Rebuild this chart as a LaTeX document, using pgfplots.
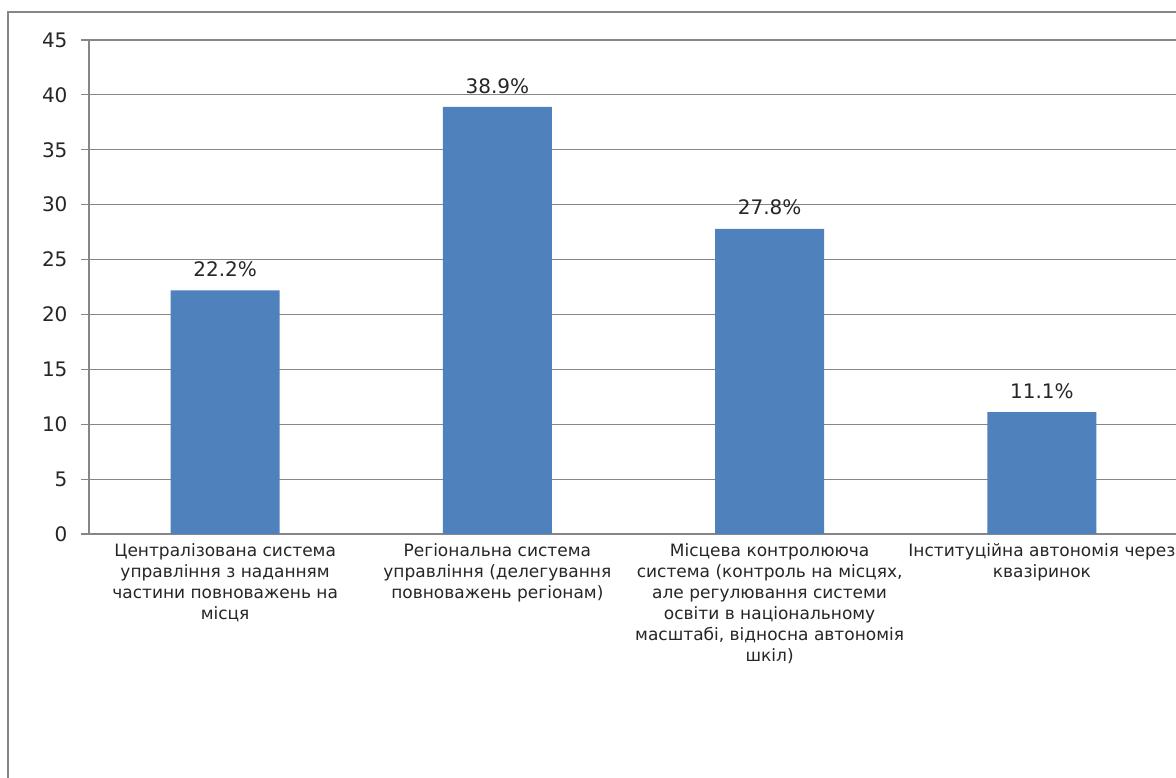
\documentclass[border=0pt]{standalone}
\usepackage{fontspec}
\setmainfont{DejaVu Sans}
\usepackage{pgfplots}
\pgfplotsset{compat=1.18}
\definecolor{barblue}{HTML}{4F81BD}
\definecolor{linegray}{HTML}{868686}

\begin{document}
\begin{tikzpicture}[x=1pt,y=1pt]
\useasboundingbox (0,0) rectangle (1176,778);
\fill[white] (0,0) rectangle (1176,778);
% outer chart frame
\draw[linegray, line width=1.3pt] (8,-10) -- (8,766) -- (1200,766);
\begin{axis}[
  at={(89pt,244pt)}, anchor=south west,
  scale only axis, width=1089pt, height=494pt,
  xmin=-0.5, xmax=3.5, ymin=0, ymax=45,
  axis x line*=bottom, axis y line*=left,
  axis line style={linegray, line width=1.2pt},
  ytick={0,5,...,45},
  ymajorgrids, grid style={linegray, line width=1.2pt},
  xtick={0,1,2,3},
  xticklabels={
    {Централізована система\\управління з наданням\\частини повноважень на\\місця},
    {Регіональна система\\управління (делегування\\повноважень регіонам)},
    {Місцева контролююча\\система (контроль на місцях,\\але регулювання системи\\освіти в національному\\масштабі, відносна автономія\\шкіл)},
    {Інституційна автономія через\\квазіринок}},
  x tick style={draw=none},
  minor xtick={-0.5,0.5,1.5,2.5,3.5},
  minor x tick style={linegray, line width=1.2pt},
  minor tick length=7pt,
  major tick length=8pt,
  y tick style={linegray, line width=1.2pt},
  tick align=outside,
  /pgf/number format/assume math mode=true,
  yticklabel style={font=\fontsize{20}{22}\selectfont, text=black!85, xshift=-10pt},
  xticklabel style={font=\fontsize{17}{21}\selectfont, text=black!85, align=center,
                    anchor=north, yshift=2pt},
  ybar, bar width=109pt,
  nodes near coords={\pgfmathprintnumber[fixed,fixed zerofill,precision=1]{\pgfplotspointmeta}\%},
  nodes near coords style={font=\fontsize{20}{22}\selectfont, text=black!85, anchor=south, yshift=10pt},
  clip=false,
]
\addplot[fill=barblue, draw=none] coordinates {(0,22.2) (1,38.9) (2,27.8) (3,11.1)};
\end{axis}
\end{tikzpicture}
\end{document}
